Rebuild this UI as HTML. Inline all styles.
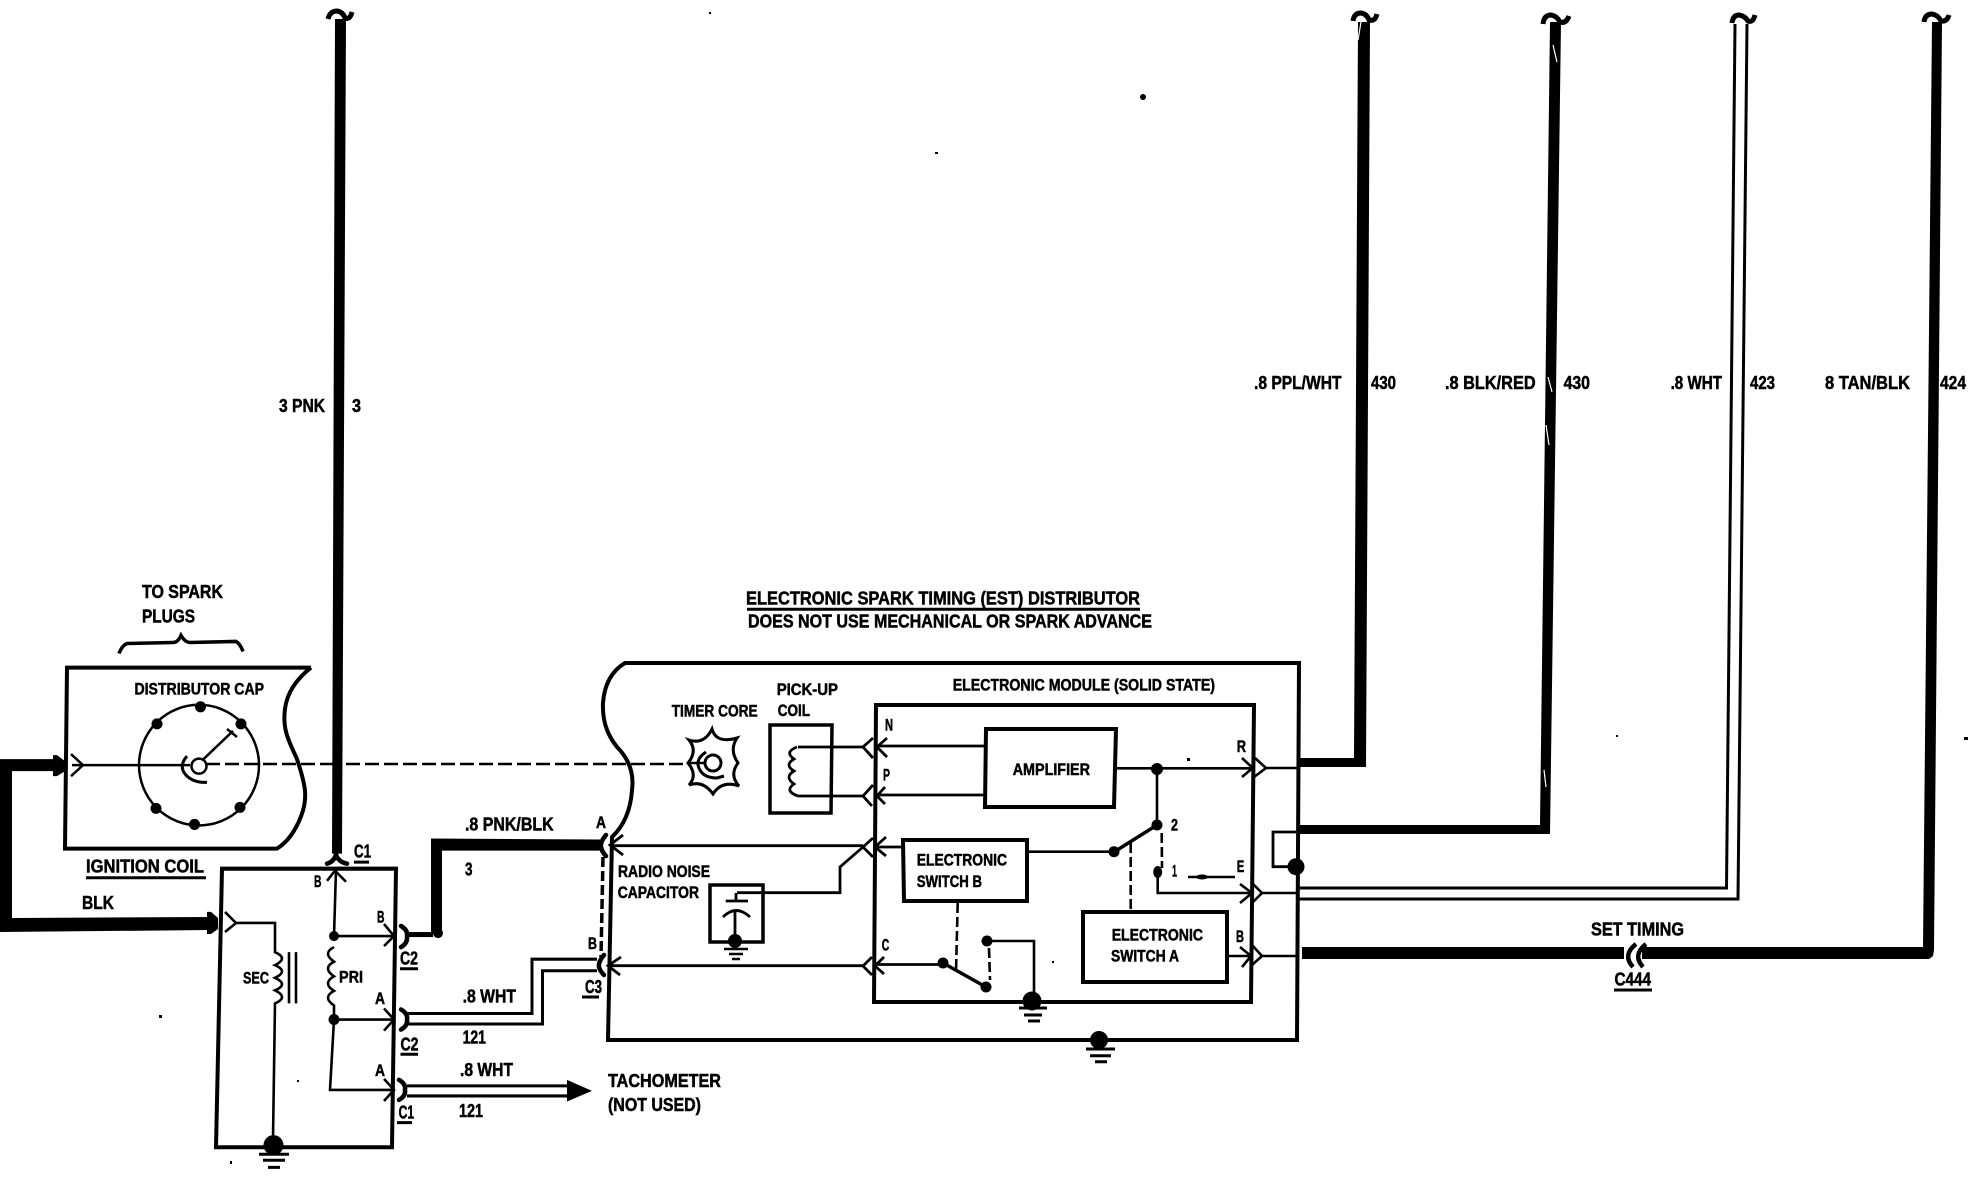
<!DOCTYPE html>
<html><head><meta charset="utf-8"><style>
html,body{margin:0;padding:0;background:#fff}
svg{display:block}
text{font-family:"Liberation Sans",Arial,sans-serif;font-weight:bold;fill:#000;stroke:#000;stroke-width:.5}
.l{fill:none;stroke:#000;stroke-linejoin:miter}
</style></head><body>
<svg width="1970" height="1184" viewBox="0 0 1970 1184" xmlns="http://www.w3.org/2000/svg">
<rect width="1970" height="1184" fill="#fff"/>

<!-- LEFT SECTION with slight vertical correction -->
<g transform="translate(0,-3.08) scale(1,1.0055)">
<g fill="#000">
<polygon points="335,22 346,22 342,852 332,852"/>
<polygon points="0,758 55,758 55,770 12,770 12,916 210,915 210,928 0,930"/>
<polygon points="53,754 57,754 65,760 65,770 57,775 53,775"/>
<polygon points="207,910 211,910 218,916 218,927 211,932 207,932"/>
<polygon points="431,837 600,838 600,849 442,849 442,932 431,932"/>
<rect x="409" y="930" width="24" height="5"/>
<circle cx="438" cy="931" r="5"/>
</g>
<path class="l" stroke-width="5" d="M328 22Q330 14 337 14Q343 15 345 21Q350 23 352 15"/>
<g class="l" stroke-width="3">
<path d="M407 1011H532V957H597"/>
<path d="M407 1021.5H542.5V968.5H597"/>
<path d="M407 1083H568"/>
<path d="M407 1093H568"/>
</g>
<polygon points="567,1077 592,1088 567,1098.5" fill="#000"/>

<g class="l" stroke-width="4">
<path d="M311 667H67L65 847H277Q292 838 301 815C308 797 306 785 297 758C290 742 282 730 285 708Q288 685 311 667"/>
</g>
<circle cx="199" cy="764" r="60" class="l" stroke-width="2.5"/>
<g fill="#000">
<circle cx="200.5" cy="706" r="5.5"/><circle cx="157" cy="723" r="5.5"/><circle cx="241" cy="723" r="5.5"/>
<circle cx="156" cy="807" r="5.5"/><circle cx="240" cy="806" r="5.5"/><circle cx="194.5" cy="823" r="5.5"/>
</g>
<g class="l" stroke-width="2.5">
<circle cx="199" cy="765" r="7.5"/>
<path d="M72 764H190"/>
<path d="M71 753L83 764L71 775"/>
<path d="M202.5 759L233 730M227 728L237 736"/>
</g>
<path class="l" stroke-width="3" d="M187 755Q178 765 186 774Q194 782 207 781"/>
<path class="l" stroke-width="3.5" d="M119 653Q122 645 127 643L173 642Q178 642 181 635Q185 642 190 642L236 641Q240 643 243 651"/>

<path class="l" stroke-width="4" d="M222 867H396L392 1144H216Z"/>
<g class="l" stroke-width="2.6">
<path d="M336 868L334 934H393"/>
<path d="M327 879L335 869L346 880"/>
<path d="M384 922L394 934L384 944"/>
<path d="M334 945Q322 951 334 959.5Q322 966 334 974Q322 981 334 988.5Q322 995 334 1003V1017H393"/>
<path d="M334 1017L330 1087H393"/>
<path d="M384 1006L394 1017L384 1028"/>
<path d="M384 1076L394 1087L384 1098"/>
<path d="M225 910L236 921L225 930"/>
<path d="M236 921H275V950Q289 956 275 963Q289 969 275 975.5Q289 982 275 988Q289 995 275 1001L273 1135"/>
<path d="M289 950V1001M296 950V1001"/>
</g>
<g fill="#000"><circle cx="334" cy="934" r="5"/><circle cx="334" cy="1017" r="5.5"/><circle cx="273.5" cy="1142" r="10"/></g>
<path stroke="#000" stroke-width="3" d="M259 1151H289M263 1157H285M268 1164H280"/>
<g class="l" stroke-width="4.5" stroke-linecap="round">
<path d="M327 862Q334 860 336 853Q338 860 347 862"/>
<path d="M401 924Q408 928 407 934Q408 941 401 945"/>
<path d="M401 1007Q408 1011 407 1017Q408 1023 401 1027"/>
<path d="M399 1077Q406 1081 405 1087Q406 1093 399 1097"/>
</g>
<g stroke="#000" stroke-width="3">
<path d="M86 876H206M354 860.5H369M400 966.5H418M400.5 1051.5H418M397 1119.5H412"/>
</g>
<g font-size="18">
<text x="142" y="598" textLength="81" lengthAdjust="spacingAndGlyphs">TO SPARK</text>
<text x="142" y="622" textLength="53" lengthAdjust="spacingAndGlyphs">PLUGS</text>
<text x="86" y="871" textLength="118" lengthAdjust="spacingAndGlyphs">IGNITION COIL</text>
<text x="82" y="907" textLength="32" lengthAdjust="spacingAndGlyphs">BLK</text>
<text x="354" y="856" textLength="17" lengthAdjust="spacingAndGlyphs">C1</text>
<text x="400" y="962.5" textLength="18" lengthAdjust="spacingAndGlyphs">C2</text>
<text x="400.5" y="1048" textLength="18" lengthAdjust="spacingAndGlyphs">C2</text>
<text x="398.6" y="1115.5" textLength="15.5" lengthAdjust="spacingAndGlyphs">C1</text>
<text x="465" y="829" textLength="88.6" lengthAdjust="spacingAndGlyphs">.8 PNK/BLK</text>
<text x="465" y="873.6" textLength="7.5" lengthAdjust="spacingAndGlyphs">3</text>
<text x="462.6" y="1000" textLength="53.4" lengthAdjust="spacingAndGlyphs">.8 WHT</text>
<text x="462.6" y="1041" textLength="23.4" lengthAdjust="spacingAndGlyphs">121</text>
<text x="460" y="1073" textLength="53" lengthAdjust="spacingAndGlyphs">.8 WHT</text>
<text x="459" y="1114" textLength="24" lengthAdjust="spacingAndGlyphs">121</text>
</g>
<g font-size="16.5">
<text x="134.5" y="693.6" textLength="129.5" lengthAdjust="spacingAndGlyphs">DISTRIBUTOR CAP</text>
<text x="243" y="981" textLength="26" lengthAdjust="spacingAndGlyphs">SEC</text>
<text x="339" y="980" textLength="24" lengthAdjust="spacingAndGlyphs">PRI</text>
<text x="375" y="1001.6" textLength="10" lengthAdjust="spacingAndGlyphs">A</text>
<text x="375" y="1073" textLength="10" lengthAdjust="spacingAndGlyphs">A</text>
<text x="314" y="885" textLength="7.5" lengthAdjust="spacingAndGlyphs">B</text>
<text x="377" y="920.6" textLength="7.5" lengthAdjust="spacingAndGlyphs">B</text>
</g>
</g>

<!-- thick right wires -->
<g fill="#000">
<polygon points="1358,22 1370,22 1366,767 1298,767 1298,758 1354,758"/>
<polygon points="1550,22 1561,22 1550,834 1298,834 1298,825 1540,825"/>
<polygon points="1932,22 1942,22 1934,950 1933,956 1929,959 1302,959 1302,947 1923,947"/>
</g>
<g stroke="#fff" stroke-width="1.2" fill="none">
<path d="M1553 45L1557 62M1548 377L1552 392M1546 425L1549 445M1544 770L1546 787"/>
<path d="M1358 40L1361 22"/>
</g>
<rect x="1624" y="940" width="18" height="25" fill="#fff"/>
<g class="l" stroke-width="4.5">
<path d="M1636 944Q1622 955 1633 967"/>
<path d="M1646 944Q1632 955 1643 967"/>
</g>

<!-- tildes -->
<g class="l" stroke-width="5">
<path d="M1353 21Q1354 13 1361 13Q1367 14 1369 20Q1375 22 1377 14"/>
<path d="M1543 24Q1544 15 1551 15Q1557 16 1560 22Q1566 24 1569 16"/>
<path d="M1732 23Q1733 15 1739 15Q1745 16 1748 21Q1753 23 1755 15"/>
<path d="M1924 22Q1925 14 1932 14Q1938 15 1941 21Q1947 22 1949 15"/>
</g>

<g class="l" stroke-width="3">
<path d="M1735 24L1726.5 888H1298"/>
<path d="M1747 24L1738 899H1298"/>
</g>

<path class="l" stroke-width="2.5" stroke-dasharray="14 5" d="M206 764H333M346 764H685"/>

<!-- connector cups at housing -->
<g class="l" stroke-width="4.5" stroke-linecap="round">
<path d="M606 835Q600 842 601 847Q602 852 606 856"/>
<path d="M604 955Q598 962 599 967Q600 971 604 975"/>
</g>
<path class="l" stroke-width="3.5" stroke-dasharray="10 4" d="M603 857L601 957"/>

<!-- timer core -->
<path class="l" stroke-width="3" d="M712 729Q716 744 737 738Q729 750 738 763Q729 775 739 786Q722 780 713 794Q703 780 689 785Q698 775 688 763Q698 751 689 740Q704 745 712 729Z"/>
<circle cx="713" cy="763" r="8" class="l" stroke-width="3"/>
<path class="l" stroke-width="3" d="M706 752Q697 758 698 765Q701 778 717 778L724 776"/>
<path class="l" stroke-width="2.5" d="M688 763H704"/>

<!-- distributor housing -->
<path class="l" stroke-width="4" d="M1299 663H625Q605 675 603 703C602 725 610 738 617 747C630 760 634 775 632 790Q630 820 612 837L608 1040H1297Z"/>

<!-- module -->
<path class="l" stroke-width="4" d="M876 705H1254L1251 1002H874Z"/>
<path class="l" stroke-width="4" d="M986 729H1116L1114 807H985Z"/>
<path class="l" stroke-width="4" d="M903 840H1027V901H904Z"/>
<path class="l" stroke-width="4" d="M1083 912H1227V982H1083Z"/>
<path class="l" stroke-width="3.5" d="M770 725H832L831 813H770Z"/>
<g class="l" stroke-width="2.8">
<path d="M798 747H863M798 796H863"/>
<path d="M797 747Q784 752 794 759Q784 765 794 771Q784 777 794 784Q784 791 798 796"/>
<path d="M873 738L863 747L873 758M887 738L877 747L887 757"/>
<path d="M873 785L863 796L872 806M885 787L877 796L885 804"/>
<path d="M877 746H986M877 795H985"/>
<path d="M873 838L863 847L873 857M886 837L875 847L886 856"/>
<path d="M610 845.7H863M875 847H903"/>
<path d="M623 835L610 845L623 855"/>
<path d="M621 957L608 965.7L620 975"/>
<path d="M608 965.7H863"/>
<path d="M872 957L863 966L872 975M884 957L875 966L884 974"/>
<path d="M875 964.5H943"/>
<path d="M863 847L840 867V892.7H737"/>
</g>
<path class="l" stroke-width="3.5" d="M710 885H763V942H710Z"/>
<g class="l" stroke-width="2.8">
<path d="M736 893V901M725.7 901H748"/>
<path d="M723 917Q736 904 750 917"/>
<path d="M735 912V937"/>
</g>
<circle cx="735" cy="941" r="7" fill="#000"/>
<path stroke="#000" stroke-width="2.6" d="M724 949H748M729 954H743M732 959H740"/>

<g class="l" stroke-width="2.6">
<path d="M1115 768.3H1252"/>
<path d="M1157 769V825"/>
<path d="M1242 758L1252.7 768L1242 777M1255 758L1266 768L1254 777"/>
<path d="M1266 768H1298"/>
<path d="M1157.7 872V893H1252"/>
<path d="M1240 884L1252 893L1240 903M1252 883L1262 893L1252 903"/>
<path d="M1262 893H1298"/>
<path d="M1227 956H1251M1262 956H1298"/>
<path d="M1240 947L1251 956L1242 967M1252 945L1262 956L1252 965"/>
<path d="M1027 851.7H1114"/>
<path d="M987 941H1034V997"/>
<path d="M1296 832H1273V866.7H1296" stroke-width="2.8"/>
</g>
<path stroke="#000" stroke-width="3.5" d="M1114 852L1157 825M943 963L986 987"/>
<g fill="#000">
<circle cx="1157" cy="769" r="6"/><circle cx="1157" cy="825" r="5.5"/><circle cx="1114" cy="851.7" r="5.5"/>
<ellipse cx="1157.7" cy="872" rx="4.5" ry="6"/>
<circle cx="943" cy="963" r="5.5"/><circle cx="986" cy="987" r="5.5"/><circle cx="987" cy="941" r="5.5"/>
<circle cx="1032" cy="1001" r="9.5"/><circle cx="1099" cy="1040" r="9"/><circle cx="1296" cy="866.7" r="8.5"/>
</g>
<path stroke="#000" stroke-width="2.5" d="M1188 877H1235"/>
<ellipse cx="1202" cy="877" rx="6" ry="2.5" fill="#000"/>
<g class="l" stroke-width="2.6" stroke-dasharray="10 4">
<path d="M1130.7 843V911"/>
<path d="M1161.7 833L1162 868"/>
<path d="M957.7 903L956 972"/>
<path d="M989 948L990 980"/>
</g>
<path stroke="#000" stroke-width="3" d="M1019 1008H1047M1024 1015H1042M1028 1021H1040M1086 1049H1115M1090 1055.7H1111M1095 1061.7H1107"/>

<g stroke="#000" stroke-width="3">
<path d="M582 997H599M747 609.3H1140M1614 990H1652"/>
</g>

<!-- specks -->
<g fill="#000">
<circle cx="1143" cy="97" r="3"/><rect x="935" y="152" width="3" height="2"/><rect x="709" y="12" width="2" height="2"/>
<rect x="1187" y="758" width="3" height="3"/><rect x="1964" y="737" width="4" height="3"/><rect x="159" y="1015" width="3" height="3"/>
<rect x="297" y="1080" width="2" height="2"/><rect x="230" y="1161" width="2" height="3"/><rect x="1616" y="735" width="2" height="2"/><rect x="1052" y="961" width="2" height="2"/>
</g>

<!-- labels -->
<g font-size="18">
<text x="585" y="993" textLength="17" lengthAdjust="spacingAndGlyphs">C3</text>
<text x="279" y="412" textLength="46" lengthAdjust="spacingAndGlyphs">3 PNK</text>
<text x="352" y="412" textLength="9" lengthAdjust="spacingAndGlyphs">3</text>
<text x="1254" y="389" textLength="87.5" lengthAdjust="spacingAndGlyphs">.8 PPL/WHT</text>
<text x="1371" y="389" textLength="25" lengthAdjust="spacingAndGlyphs">430</text>
<text x="1445" y="389" textLength="90.6" lengthAdjust="spacingAndGlyphs">.8 BLK/RED</text>
<text x="1563.6" y="389" textLength="26.4" lengthAdjust="spacingAndGlyphs">430</text>
<text x="1670.6" y="389" textLength="51.4" lengthAdjust="spacingAndGlyphs">.8 WHT</text>
<text x="1750" y="389" textLength="25" lengthAdjust="spacingAndGlyphs">423</text>
<text x="1825" y="389" textLength="85" lengthAdjust="spacingAndGlyphs">8 TAN/BLK</text>
<text x="1940" y="389" textLength="26" lengthAdjust="spacingAndGlyphs">424</text>
<text x="1591" y="935.7" textLength="93" lengthAdjust="spacingAndGlyphs">SET TIMING</text>
<text x="1614.5" y="985.7" textLength="36.5" lengthAdjust="spacingAndGlyphs">C444</text>
<text x="608" y="1087" textLength="113" lengthAdjust="spacingAndGlyphs">TACHOMETER</text>
<text x="608" y="1111" textLength="93" lengthAdjust="spacingAndGlyphs">(NOT USED)</text>
<text x="746" y="604.3" textLength="394" lengthAdjust="spacingAndGlyphs">ELECTRONIC SPARK TIMING (EST) DISTRIBUTOR</text>
<text x="748" y="627.3" textLength="404" lengthAdjust="spacingAndGlyphs">DOES NOT USE MECHANICAL OR SPARK ADVANCE</text>
</g>
<g font-size="16.5">
<text x="596" y="828" textLength="10" lengthAdjust="spacingAndGlyphs">A</text>
<text x="588" y="949" textLength="9" lengthAdjust="spacingAndGlyphs">B</text>
<text x="952.7" y="690.7" textLength="262.3" lengthAdjust="spacingAndGlyphs">ELECTRONIC MODULE (SOLID STATE)</text>
<text x="671.7" y="716.7" textLength="86" lengthAdjust="spacingAndGlyphs">TIMER CORE</text>
<text x="776.7" y="695" textLength="61.3" lengthAdjust="spacingAndGlyphs">PICK-UP</text>
<text x="777.7" y="716" textLength="32.3" lengthAdjust="spacingAndGlyphs">COIL</text>
<text x="618" y="877" textLength="92" lengthAdjust="spacingAndGlyphs">RADIO NOISE</text>
<text x="617.7" y="898" textLength="81.3" lengthAdjust="spacingAndGlyphs">CAPACITOR</text>
<text x="885" y="730.7" textLength="8" lengthAdjust="spacingAndGlyphs">N</text>
<text x="883" y="780.7" textLength="7" lengthAdjust="spacingAndGlyphs">P</text>
<text x="881.7" y="950.7" textLength="7.5" lengthAdjust="spacingAndGlyphs">C</text>
<text x="1236.7" y="752" textLength="9.3" lengthAdjust="spacingAndGlyphs">R</text>
<text x="1236.7" y="872" textLength="7.5" lengthAdjust="spacingAndGlyphs">E</text>
<text x="1236" y="942" textLength="8" lengthAdjust="spacingAndGlyphs">B</text>
<text x="1012.7" y="775" textLength="77.3" lengthAdjust="spacingAndGlyphs">AMPLIFIER</text>
<text x="916.7" y="865.7" textLength="90.3" lengthAdjust="spacingAndGlyphs">ELECTRONIC</text>
<text x="916.7" y="887" textLength="65.3" lengthAdjust="spacingAndGlyphs">SWITCH B</text>
<text x="1111.7" y="940.7" textLength="91.3" lengthAdjust="spacingAndGlyphs">ELECTRONIC</text>
<text x="1111" y="961.7" textLength="68" lengthAdjust="spacingAndGlyphs">SWITCH A</text>
<text x="1171" y="830.6" textLength="7" lengthAdjust="spacingAndGlyphs">2</text>
<text x="1172" y="876.6" textLength="5" lengthAdjust="spacingAndGlyphs">1</text>
</g>
</svg>
</body></html>
